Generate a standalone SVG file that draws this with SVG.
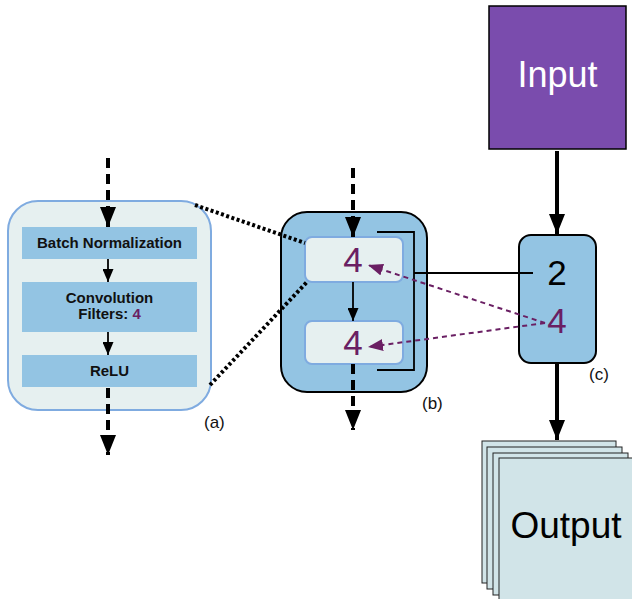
<svg xmlns="http://www.w3.org/2000/svg" width="632" height="599" viewBox="0 0 632 599">
<style>
.lbl{font-family:"Liberation Sans",Arial,sans-serif;font-size:15px;font-weight:bold;fill:#111;text-anchor:middle}
.cap{font-family:"Liberation Sans",Arial,sans-serif;font-size:17px;fill:#111}
.big{font-family:"Liberation Sans",Arial,sans-serif;font-size:35px;text-anchor:middle}
.purple{fill:#6a1f63}
.lite{fill:#e6f0f0;stroke:#7fabe0;stroke-width:2}
.step{fill:#93c4e3}
.blue{fill:#93c4e3;stroke:#000;stroke-width:2}
.dash{stroke:#000;stroke-width:4;stroke-dasharray:10 6;fill:none}
.dot{stroke:#000;stroke-width:4;stroke-dasharray:3 2.5;fill:none}
.thin{stroke:#000;stroke-width:1.8;fill:none}
.thick{stroke:#000;stroke-width:4;fill:none}
.pdash{stroke:#6a1f63;stroke-width:2;stroke-dasharray:5 4;fill:none}
.out{fill:#d1e4e8;stroke:#222;stroke-width:1}
</style>
<defs>
<marker id="ab" markerUnits="userSpaceOnUse" viewBox="0 0 20 16" refX="20" refY="8" markerWidth="20" markerHeight="16" orient="auto"><path d="M0,0 L20,8 L0,16 Z" fill="#000"/></marker>
<marker id="as" markerUnits="userSpaceOnUse" viewBox="0 0 13 11" refX="13" refY="5.5" markerWidth="13" markerHeight="11" orient="auto"><path d="M0,0 L13,5.5 L0,11 Z" fill="#000"/></marker>
<marker id="ap" markerUnits="userSpaceOnUse" viewBox="0 0 15 12" refX="15" refY="6" markerWidth="15" markerHeight="12" orient="auto"><path d="M0,0 L15,6 L0,12 Z" fill="#6a1f63"/></marker>
</defs>

<g id="panel-a">
<rect x="8" y="201" width="203" height="209" rx="30" class="lite"/>
<g id="batchnorm"><rect x="22" y="227" width="175" height="32" class="step"/><text class="lbl" x="109.5" y="248">Batch Normalization</text></g>
<g id="conv"><rect x="22" y="282" width="175" height="50" class="step"/><text class="lbl" x="109.5" y="303">Convolution</text><text class="lbl" x="109.5" y="319">Filters: <tspan class="purple">4</tspan></text></g>
<g id="relu"><rect x="22" y="355" width="175" height="32" class="step"/><text class="lbl" x="109.5" y="376">ReLU</text></g>
<text class="cap" x="204" y="428">(a)</text>
</g>

<g id="panel-b">
<rect x="281" y="212" width="146" height="180" rx="26" class="blue"/>
<g id="b1"><rect x="305" y="237" width="98" height="45" rx="7" class="lite"/><text class="big purple" x="353" y="272">4</text></g>
<g id="b2"><rect x="305" y="321" width="98" height="43" rx="7" class="lite"/><text class="big purple" x="353" y="355">4</text></g>
<text class="cap" x="422" y="409">(b)</text>
</g>

<g id="input"><rect x="489" y="6" width="137" height="143" fill="#7a4cad" stroke="#000" stroke-width="1.5"/><text x="557.5" y="87" font-family="Liberation Sans,Arial,sans-serif" font-size="36" fill="#fff" text-anchor="middle">Input</text></g>

<g id="panel-c">
<rect x="519" y="235" width="77" height="128" rx="12" class="blue"/>
<text class="big" x="557" y="285" fill="#000">2</text>
<text class="big purple" x="557" y="333">4</text>
<text class="cap" x="589" y="380">(c)</text>
</g>

<g id="output">
<rect x="482" y="441" width="134" height="142" class="out"/>
<rect x="487" y="447" width="135" height="142" class="out"/>
<rect x="493" y="453" width="135" height="142" class="out"/>
<rect x="499" y="458" width="140" height="150" class="out"/>
<text x="566" y="538" font-family="Liberation Sans,Arial,sans-serif" font-size="37" fill="#000" text-anchor="middle">Output</text>
</g>

<g id="connectors">
<line class="dot" x1="195" y1="205" x2="305" y2="243"/>
<line class="dot" x1="210" y1="385" x2="307" y2="282"/>
<line class="dash" x1="108" y1="158" x2="108" y2="227" marker-end="url(#ab)"/>
<line class="thin" x1="108" y1="259" x2="108" y2="282" marker-end="url(#as)"/>
<line class="thin" x1="108" y1="332" x2="108" y2="355" marker-end="url(#as)"/>
<line class="dash" x1="108" y1="388" x2="108" y2="455" marker-end="url(#ab)"/>
<line class="dash" x1="353" y1="168" x2="353" y2="237" marker-end="url(#ab)"/>
<line class="thin" x1="353" y1="282" x2="353" y2="321" marker-end="url(#as)"/>
<line class="dash" x1="353" y1="364" x2="353" y2="430" marker-end="url(#ab)"/>
<polyline class="thin" points="377,232 414,232 414,370 377,370"/>
<line class="thin" x1="414" y1="273" x2="533" y2="273"/>
<line class="pdash" x1="545" y1="323" x2="368" y2="265" marker-end="url(#ap)"/>
<line class="pdash" x1="545" y1="323" x2="368" y2="347" marker-end="url(#ap)"/>
<line class="thick" x1="557" y1="151" x2="557" y2="234" marker-end="url(#ab)"/>
<line class="thick" x1="557" y1="363" x2="557" y2="440" marker-end="url(#ab)"/>
</g>
</svg>
